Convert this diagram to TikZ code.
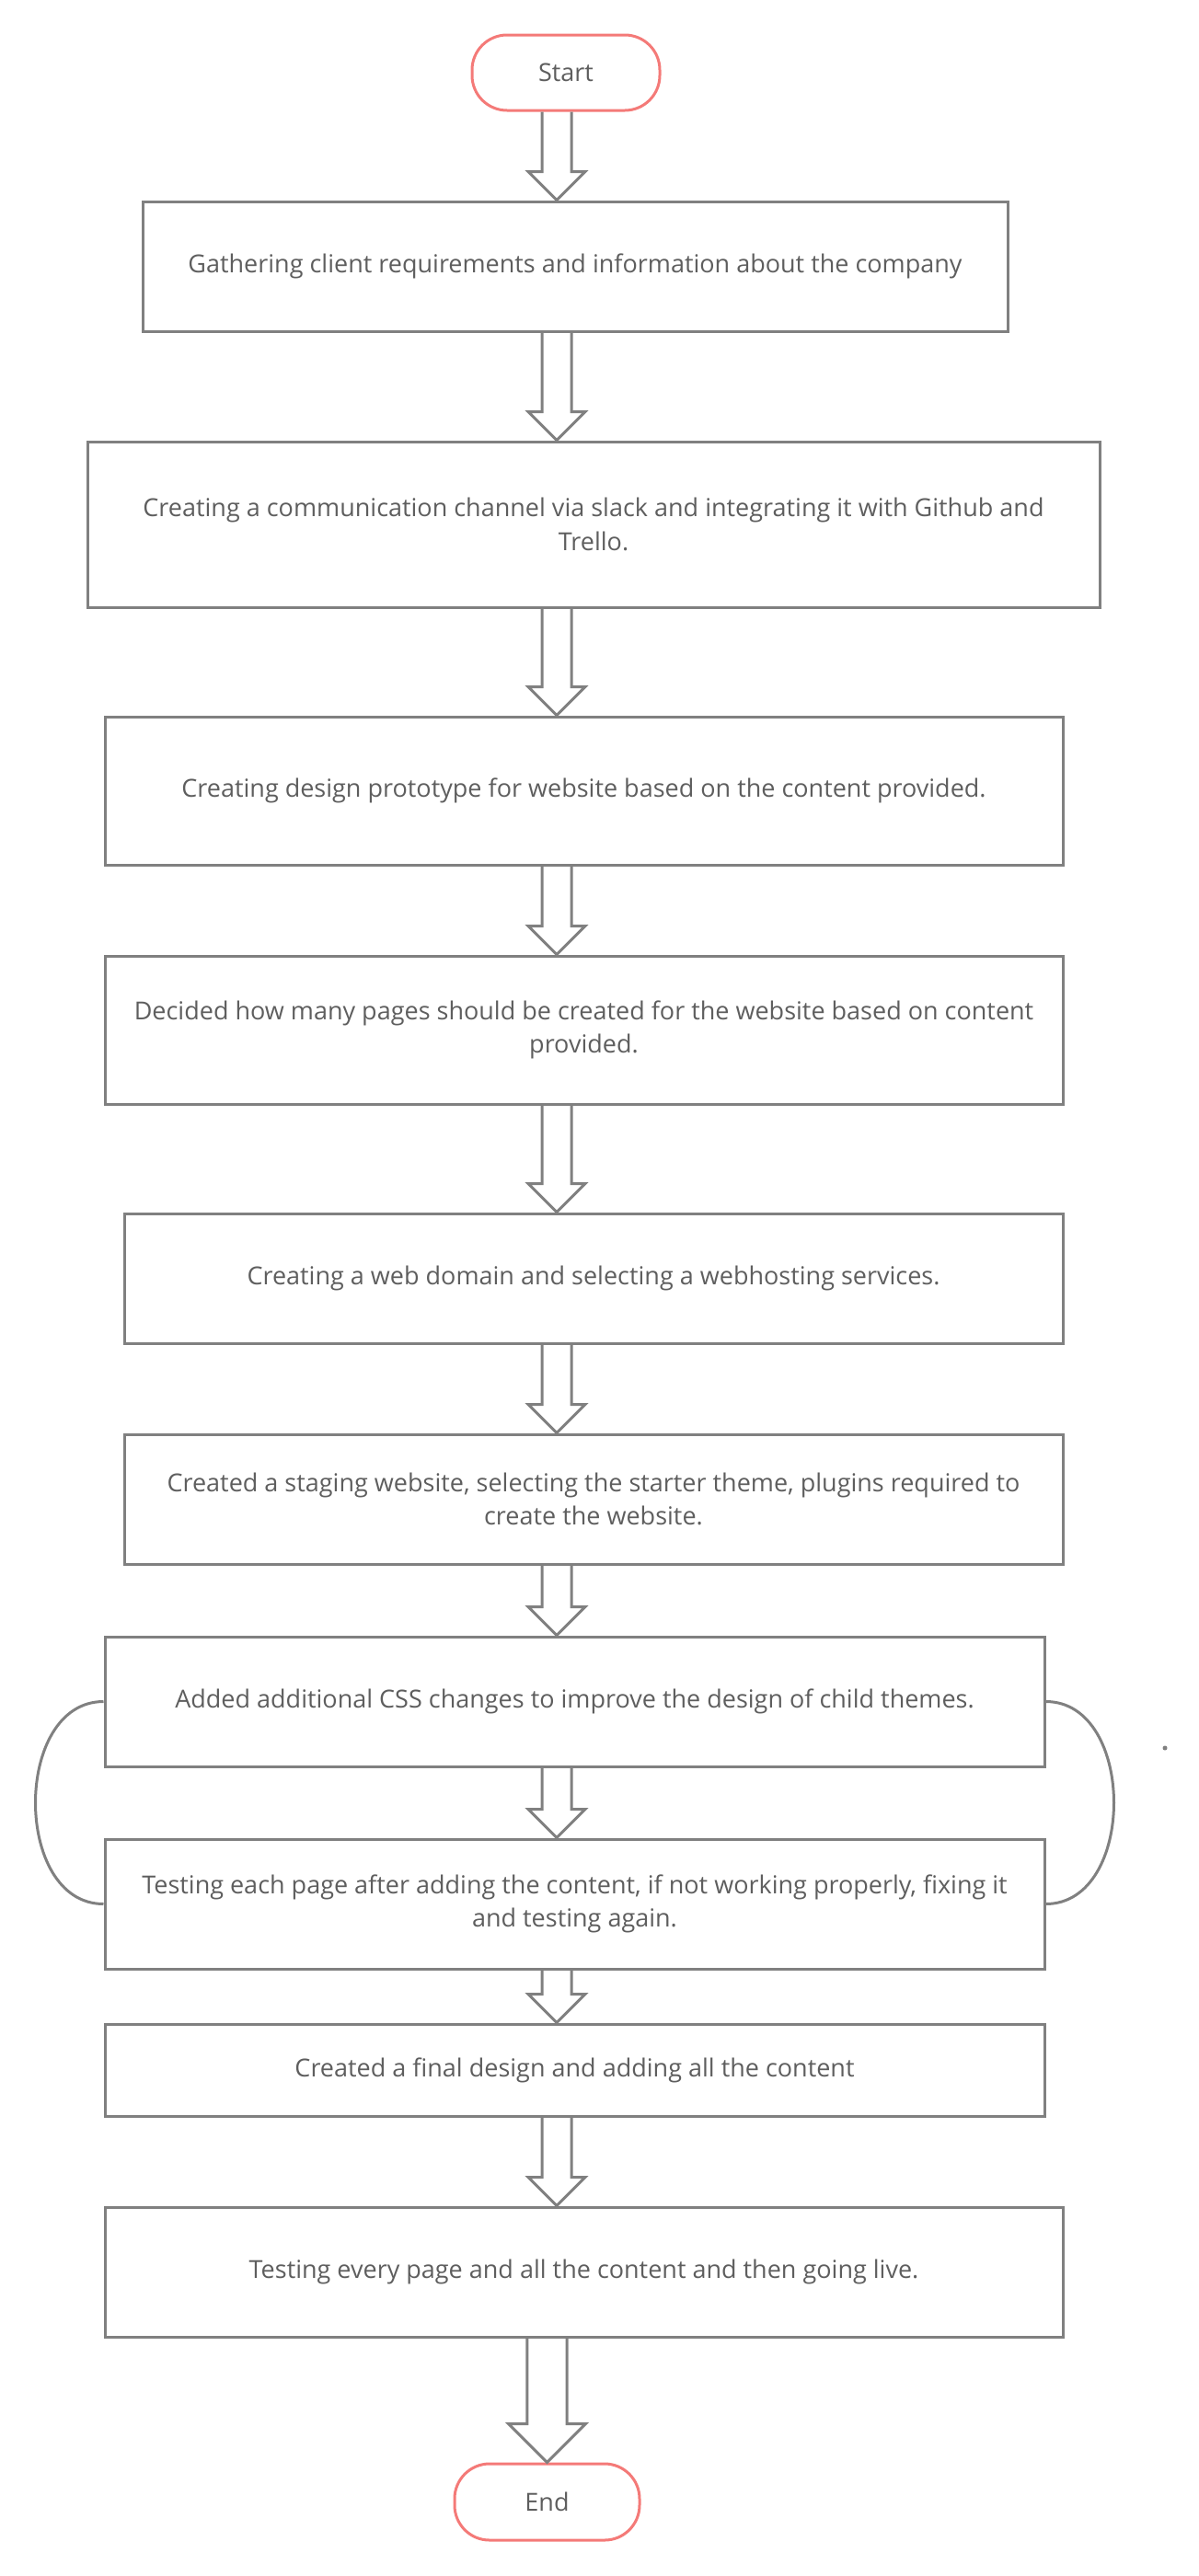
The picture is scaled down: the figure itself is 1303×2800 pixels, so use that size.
\documentclass[tikz,border=0pt]{standalone}
\usepackage{fontspec}
\setmainfont{Open Sans}
\usepackage{tikz}
\usetikzlibrary{arrows.meta, positioning, calc}
\definecolor{linegray}{HTML}{808080}
\definecolor{textgray}{HTML}{5E5E5E}
\definecolor{pillred}{HTML}{F47A78}
\newcommand*{\blockarrow}[4][1]{%
  \draw[blockflow] let \p1=(#2.south -| #4), \p2=(#3.north -| #4) in
    (\x1-#1*16pt,\y1) -- (\x1-#1*16pt,\y2+#1*31pt) -- (\x1-#1*31pt,\y2+#1*31pt) -- (\p2)
    -- (\x1+#1*31pt,\y2+#1*31pt) -- (\x1+#1*16pt,\y2+#1*31pt) -- (\x1+#1*16pt,\y1);}

\begin{document}
\begin{tikzpicture}[on grid, node distance=220pt,
      every node/.style={text=textgray, font=\fontsize{27}{36.5}\selectfont},
      taskbox/.style={draw=linegray, line width=3pt, minimum width=1021pt, minimum height=141pt, align=center, inner sep=0pt},
      terminal/.style={draw=pillred, line width=3pt, rounded corners=38pt, minimum width=204pt, minimum height=82pt},
      blockflow/.style={draw=linegray, line width=3pt},
      sideloop/.style={draw=linegray, line width=3pt, looseness=1.15}]
  \useasboundingbox (0,0) rectangle (1303pt,-2800pt);
  \coordinate (ax) at (605pt,0);
  \coordinate (ex) at (594.5pt,0);
  \node[terminal] (start) at (615pt,-79pt) {Start};
  \node[taskbox, minimum width=940pt, below=210.5pt of start, xshift=10pt] (gather) {Gathering client requirements and information about the company};
  \node[taskbox, minimum width=1100pt, minimum height=180pt, below=280.5pt of gather, xshift=20pt] (channel) {Creating a communication channel via slack and integrating it with Github and\\Trello.};
  \node[taskbox, minimum width=1041pt, minimum height=161pt, below=289.5pt of channel, xshift=-10.5pt] (prototype) {Creating design prototype for website based on the content provided.};
  \node[taskbox, minimum width=1041pt, minimum height=161pt, below=260pt of prototype] (pages) {Decided how many pages should be created for the website based on content\\provided.};
  \node[taskbox, minimum width=1020pt, below=270pt of pages, xshift=10.5pt] (domain) {Creating a web domain and selecting a webhosting services.};
  \node[taskbox, minimum width=1020pt, below=240pt of domain] (staging) {Created a staging website, selecting the starter theme, plugins required to\\create the website.};
  \node[taskbox, below=of staging, xshift=-20.5pt] (css) {Added additional CSS changes to improve the design of child themes.};
  \node[taskbox, below=of css] (testing) {Testing each page after adding the content, if not working properly, fixing it\\and testing again.};
  \node[taskbox, minimum height=100pt, below=180.5pt of testing] (final) {Created a final design and adding all the content};
  \node[taskbox, minimum width=1041pt, below=219.5pt of final, xshift=10pt] (golive) {Testing every page and all the content and then going live.};
  \node[terminal, minimum width=201pt, minimum height=83pt, below=250pt of golive, xshift=-40pt] (finish) {End};

  \blockarrow{start}{gather}{ax}
  \blockarrow{gather}{channel}{ax}
  \blockarrow{channel}{prototype}{ax}
  \blockarrow{prototype}{pages}{ax}
  \blockarrow{pages}{domain}{ax}
  \blockarrow{domain}{staging}{ax}
  \blockarrow{staging}{css}{ax}
  \blockarrow{css}{testing}{ax}
  \blockarrow{testing}{final}{ax}
  \blockarrow{final}{golive}{ax}
  \blockarrow[1.35]{golive}{finish}{ex}

  \draw[sideloop] (css.west) to[out=180,in=180] (testing.west);
  \draw[sideloop] (css.east) to[out=0,in=0] (testing.east);
  \fill[linegray] (1266pt,-1900pt) circle (2.5pt);
\end{tikzpicture}
\end{document}
